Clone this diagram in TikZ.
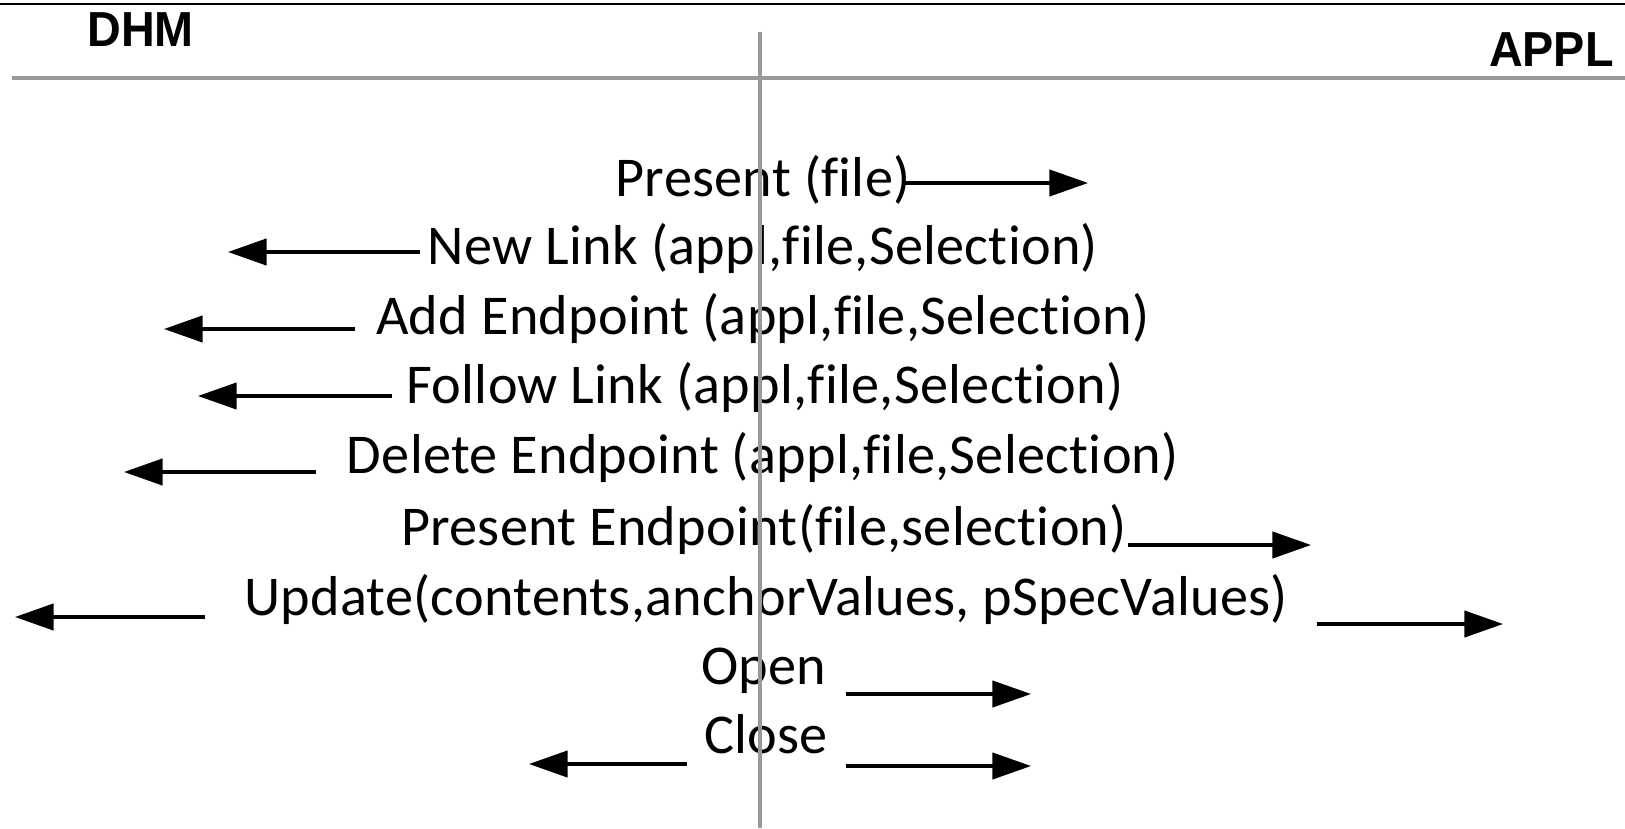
\documentclass[tikz,border=0pt]{standalone}
\usepackage{fontspec}
\usepackage{tikz}
\usetikzlibrary{arrows.meta}
\newfontfamily\msgfont[Ligatures=NoCommon,LetterSpace=0.5]{Carlito}
\newfontfamily\headfont[FakeStretch=0.95]{Liberation Sans}
\tikzset{
  msgtext/.style={anchor=base,inner sep=0pt,font=\msgfont\fontsize{32}{36}\selectfont},
  headtext/.style={inner sep=0pt,font=\headfont\bfseries\fontsize{28}{32}\selectfont},
  msg/.style={-{Triangle[length=22pt,width=15pt]},line width=1.8pt},
  lifeline/.style={color=black!40,line width=2.2pt}
}

\begin{document}
\begin{tikzpicture}[x=0.02cm,y=-0.02cm]
  \useasboundingbox (0,0) rectangle (1625,828);
  % header
  \draw[line width=1.5pt] (0,4) -- (1625,4);
  \node[headtext,anchor=base west] (dhm) at (87,47) {DHM};
  \node[headtext,anchor=base east] (appl) at (1614,67) {APPL};
  \coordinate (hl) at (12,78); \coordinate (hr) at (1625,78);
  \draw[lifeline] (hl) -- (hr);

  % messages
  \node[msgtext] (m1) at (763,196) {Present (file)};
  \node[msgtext] (m2) at (763,264) {New Link (appl,file,Selection)};
  \node[msgtext] (m3) at (763,334) {Add Endpoint (appl,file,Selection)};
  \node[msgtext] (m4) at (765,403) {Follow Link (appl,file,Selection)};
  \node[msgtext] (m5) at (763,473) {Delete Endpoint (appl,file,Selection)};
  \node[msgtext] (m6) at (764,545) {Present Endpoint(file,selection)};
  \node[msgtext] (m7) at (766,615) {Update(contents,anchorValues, pSpecValues)};
  \node[msgtext] (m8) at (764,684) {Open};
  \node[msgtext] (m9) at (766,753) {Close};

  % arrows
  \coordinate (s1) at (902,183); \coordinate (e1) at (1088,183); \draw[msg] (s1) -- (e1);
  \coordinate (s2) at (420,252); \coordinate (e2) at (228,252); \draw[msg] (s2) -- (e2);
  \coordinate (s3) at (355,329); \coordinate (e3) at (164,329); \draw[msg] (s3) -- (e3);
  \coordinate (s4) at (392,396); \coordinate (e4) at (198,396); \draw[msg] (s4) -- (e4);
  \coordinate (s5) at (316,472); \coordinate (e5) at (124,472); \draw[msg] (s5) -- (e5);
  \coordinate (s6) at (1128,545); \coordinate (e6) at (1311,545); \draw[msg] (s6) -- (e6);
  \coordinate (s7) at (205,617); \coordinate (e7) at (15,617); \draw[msg] (s7) -- (e7);
  \coordinate (t7) at (1317,624); \coordinate (f7) at (1503,624); \draw[msg] (t7) -- (f7);
  \coordinate (s8) at (846,694); \coordinate (e8) at (1031,694); \draw[msg] (s8) -- (e8);
  \coordinate (s9) at (687,764); \coordinate (e9) at (529,764); \draw[msg] (s9) -- (e9);
  \coordinate (t9) at (846,766); \coordinate (f9) at (1031,766); \draw[msg] (t9) -- (f9);

  % divider
  \coordinate (vt) at (760,32); \coordinate (vb) at (760,828);
  \draw[lifeline] (vt) -- (vb);
\end{tikzpicture}
\end{document}
